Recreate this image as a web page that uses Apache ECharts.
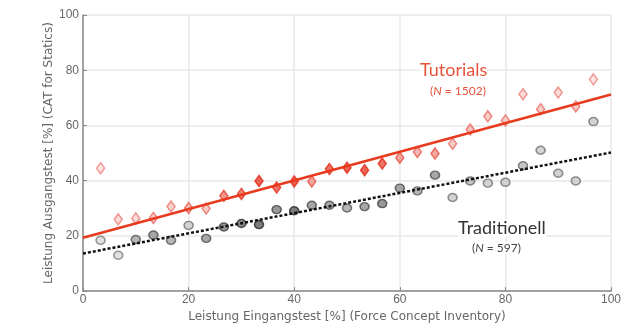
<!DOCTYPE html>
<html><head><meta charset="utf-8">
<script src="https://cdn.jsdelivr.net/npm/echarts@6/dist/echarts.min.js"></script>
<style>html,body{margin:0;padding:0;background:#fff}#c{width:634px;height:328px}</style>
</head><body><div id="c"></div>
<script>
// FCI pretest score bins (%)
var pretest = [3.33, 6.67, 10, 13.33, 16.67, 20, 23.33, 26.67, 30, 33.33, 36.67, 40, 43.33, 46.67, 50, 53.33, 56.67, 60, 63.33, 66.67, 70, 73.33, 76.67, 80, 83.33, 86.67, 90, 93.33, 96.67];
// Tutorials post-test (%)
var tutorials = [44.5, 26, 26.3, 26.5, 30.6, 30.1, 29.9, 34.5, 35.2, 39.9, 37.5, 39.7, 39.7, 44.2, 44.7, 43.8, 46.2, 48.3, 50.4, 49.8, 53.4, 58.5, 63.3, 61.8, 71.3, 65.9, 71.9, 66.9, 76.7];
// Traditionell post-test (%)
var traditionell = [18.4, 13.0, 18.7, 20.3, 18.4, 23.8, 19.1, 23.2, 24.5, 24.1, 29.5, 29.1, 31.1, 31.1, 30.1, 30.6, 31.7, 37.3, 36.3, 42.0, 33.9, 39.9, 39.1, 39.4, 45.4, 51.0, 42.7, 39.9, 61.4];
// relative number of students per bin (shading), 0..1
var tutorialsDensity = [0.15, 0.2, 0.2, 0.3, 0.25, 0.4, 0.3, 0.6, 0.7, 0.9, 0.8, 0.9, 0.5, 0.8, 0.9, 0.9, 0.8, 0.5, 0.4, 0.5, 0.3, 0.35, 0.3, 0.3, 0.2, 0.3, 0.2, 0.3, 0.15];
var traditionellDensity = [0.2, 0.2, 0.5, 0.6, 0.5, 0.3, 0.6, 0.7, 0.8, 0.9, 0.7, 0.9, 0.6, 0.6, 0.5, 0.6, 0.7, 0.6, 0.5, 0.6, 0.3, 0.4, 0.3, 0.3, 0.4, 0.3, 0.3, 0.3, 0.3];
// linear fits: value at x = 0 and x = 100
var fitX = [0, 100];
var tutorialsFit = [19.3, 71.2];
var traditionellFit = [13.6, 50.2];

function mix(a, b, t) {
  var r = Math.round(a[0] + (b[0] - a[0]) * t), g = Math.round(a[1] + (b[1] - a[1]) * t), bl = Math.round(a[2] + (b[2] - a[2]) * t);
  return 'rgb(' + r + ',' + g + ',' + bl + ')';
}
function pts(ys, dens, dark, edgeLight, k) {
  return pretest.map(function (x, i) {
    var d = dens[i] * k;
    return { value: [x, ys[i]], itemStyle: { color: mix([255, 255, 255], dark, d), borderColor: mix(edgeLight, dark, Math.min(1, d * 1.3)) } };
  });
}
var RED = [226, 40, 20], BLACK = [40, 40, 40];
var chart = echarts.init(document.getElementById('c'));
var FONT = 'Liberation Sans, Arial, sans-serif';
var NAMEFONT = '"DejaVu Sans", sans-serif';
var axisText = { color: '#666', fontSize: 12, fontFamily: FONT };
chart.setOption({
  animation: false,
  grid: { left: 83, right: 23, top: 15, bottom: 34 },
  xAxis: {
    type: 'value', min: 0, max: 100, interval: 20,
    name: 'Leistung Eingangstest [%] (Force Concept Inventory)', nameLocation: 'middle', nameGap: 18,
    nameTextStyle: { color: '#666', fontSize: 12, fontFamily: NAMEFONT },
    axisLine: { lineStyle: { color: '#888', width: 1.5 } },
    axisTick: { inside: true, length: 4, lineStyle: { color: '#888' } },
    axisLabel: Object.assign({ margin: 3 }, axisText),
    splitLine: { show: true, lineStyle: { color: '#e8e8e8', width: 1.5 } }
  },
  yAxis: {
    type: 'value', min: 0, max: 100, interval: 20,
    name: 'Leistung Ausgangstest [%] (CAT for Statics)', nameLocation: 'middle', nameGap: 28, nameMoveOverlap: false,
    nameTextStyle: { color: '#666', fontSize: 12, fontFamily: NAMEFONT },
    axisLine: { show: true, lineStyle: { color: '#888', width: 1.5 } },
    axisTick: { show: true, inside: true, length: 4, lineStyle: { color: '#888' } },
    axisLabel: Object.assign({ margin: 4 }, axisText),
    splitLine: { show: true, lineStyle: { color: '#e8e8e8', width: 1.5 } }
  },
  series: [
    { type: 'scatter', symbol: 'circle', symbolSize: [9, 8], z: 2,
      itemStyle: { borderWidth: 1.5 },
      data: pts(traditionell, traditionellDensity, BLACK, [150, 150, 150], 0.85) },
    { type: 'scatter', symbol: 'diamond', symbolSize: [8, 11], z: 2,
      itemStyle: { borderWidth: 1.5 },
      data: pts(tutorials, tutorialsDensity, RED, [240, 150, 150], 1) },
    { type: 'line', z: 3, symbol: 'none', silent: true,
      lineStyle: { color: '#e83a1e', width: 2.5 },
      data: fitX.map(function (x, i) { return [x, tutorialsFit[i]]; }) },
    { type: 'line', z: 3, symbol: 'none', silent: true,
      lineStyle: { color: '#111', width: 2.5, type: [3, 2] },
      data: fitX.map(function (x, i) { return [x, traditionellFit[i]]; }) }
  ],
  graphic: [
    { type: 'text', left: 420, top: 61, z: 10, style: { text: 'Tutorials', fill: '#e5533b', font: '18px Lato, "Open Sans", sans-serif', backgroundColor: '#fff' } },
    { type: 'text', left: 430, top: 85, z: 10, style: { backgroundColor: '#fff', rich: { i: { fontStyle: 'italic', fontSize: 12, fontFamily: 'Lato', fill: '#e5533b' }, n: { fontSize: 12, fontFamily: 'Lato', fill: '#e5533b' } }, text: '{n|(}{i|N}{n| = 1502)}' } },
    { type: 'text', left: 458, top: 219, z: 10, style: { text: 'Traditionell', fill: '#333', font: '18px Lato, "Open Sans", sans-serif', backgroundColor: '#fff' } },
    { type: 'text', left: 472, top: 242, z: 10, style: { backgroundColor: '#fff', rich: { i: { fontStyle: 'italic', fontSize: 12, fontFamily: 'Lato', fill: '#444' }, n: { fontSize: 12, fontFamily: 'Lato', fill: '#444' } }, text: '{n|(}{i|N}{n| = 597)}' } }
  ]
});
</script></body></html>
